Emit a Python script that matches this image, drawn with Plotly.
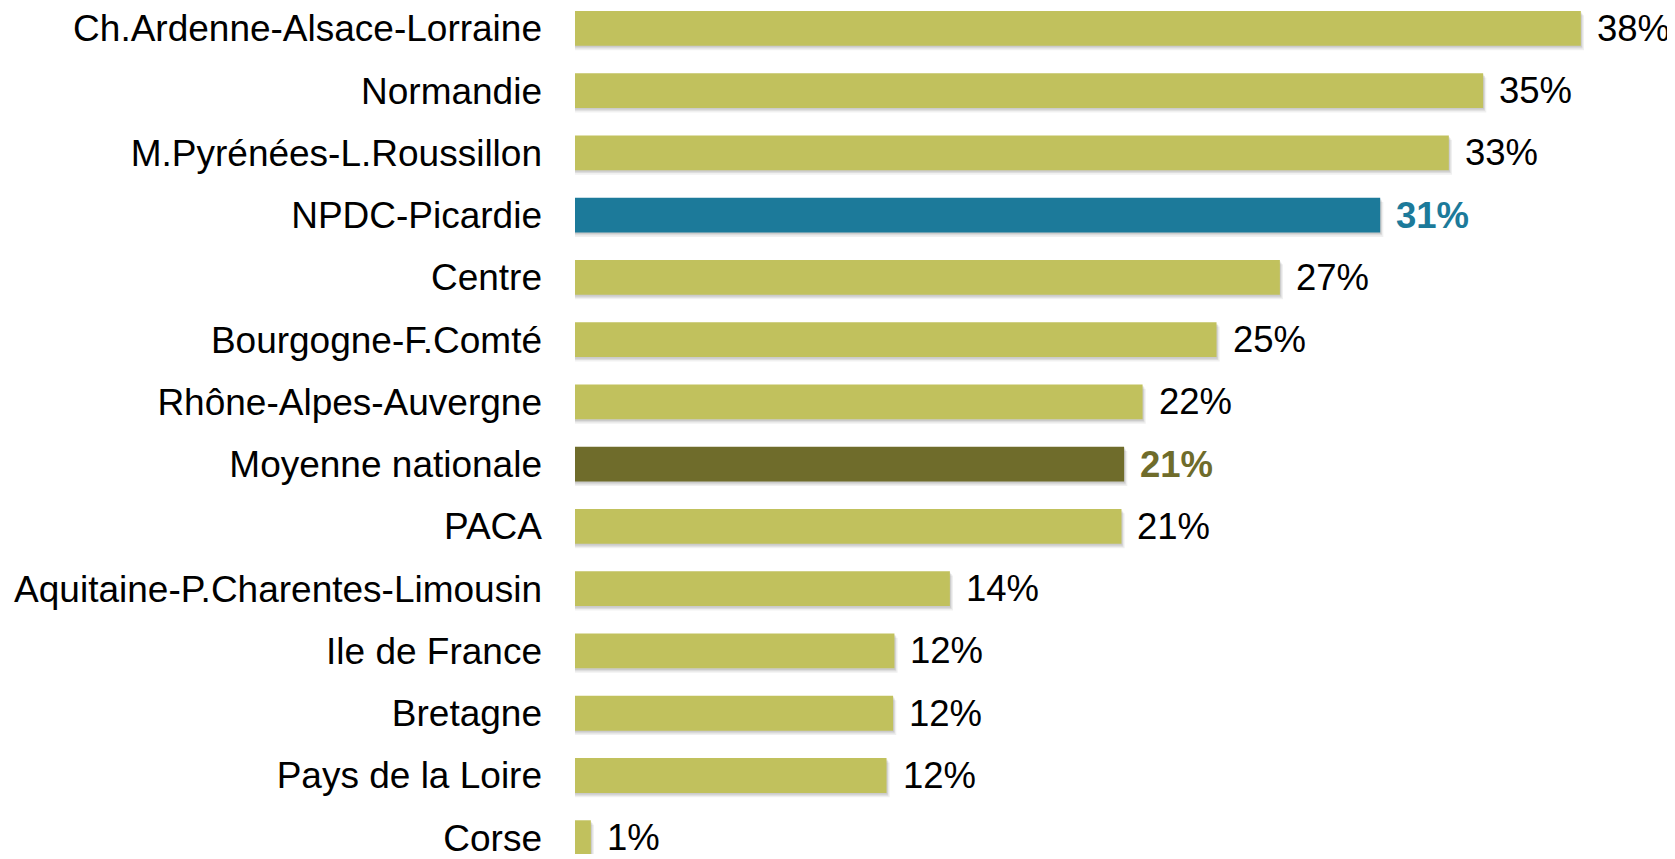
import plotly.graph_objects as go

regions = [
    "Ch.Ardenne-Alsace-Lorraine", "Normandie", "M.Pyrénées-L.Roussillon",
    "NPDC-Picardie", "Centre", "Bourgogne-F.Comté", "Rhône-Alpes-Auvergne",
    "Moyenne nationale", "PACA", "Aquitaine-P.Charentes-Limousin",
    "Ile de France", "Bretagne", "Pays de la Loire", "Corse",
]
values = [38.1, 34.4, 33.1, 30.5, 26.7, 24.3, 21.5, 20.8, 20.7, 14.2, 12.1, 12.05, 11.8, 0.6]
labels = ["38%", "35%", "33%", "31%", "27%", "25%", "22%", "21%", "21%", "14%", "12%", "12%", "12%", "1%"]

GREEN = "#C1C15D"
BLUE = "#1C7A9A"
OLIVE = "#6F6C2B"
bar_colors = [GREEN] * len(regions)
bar_colors[3] = BLUE
bar_colors[7] = OLIVE
text_colors = ["#000000"] * len(regions)
text_colors[3] = BLUE
text_colors[7] = OLIVE
text_bold = [False] * len(regions)
text_bold[3] = True
text_bold[7] = True

FONT = "Liberation Sans, Arial, Helvetica, sans-serif"
BW = 0.56

fig = go.Figure()
# soft shadow layers
for dy, dx, a in [(0.07, 0.12, 0.06), (0.045, 0.07, 0.08), (0.025, 0.04, 0.08)]:
    fig.add_trace(go.Bar(
        y=regions, x=[v + dx for v in values], orientation="h",
        width=BW, offset=-BW / 2 + dy,
        marker=dict(color=f"rgba(0,0,0,{a})", line=dict(width=0)),
        hoverinfo="skip", showlegend=False,
    ))
fig.add_trace(go.Bar(
    y=regions, x=values, orientation="h",
    width=BW, offset=-BW / 2,
    marker=dict(color=bar_colors, line=dict(width=0)),
    showlegend=False,
))

for r, v, t, c, b in zip(regions, values, labels, text_colors, text_bold):
    fig.add_annotation(
        x=v, y=r, text=f"<b>{t}</b>" if b else t,
        xanchor="left", yanchor="middle", xshift=14, yshift=0,
        showarrow=False,
        font=dict(family=FONT, size=36.5, color=c),
    )

pitch = 62.7
top_px = 19.5
h = 851
top = -top_px / pitch
bottom = top + h / pitch

fig.update_layout(
    width=1667, height=851,
    margin=dict(l=567, r=0, t=0, b=0),
    barmode="overlay",
    plot_bgcolor="white", paper_bgcolor="white",
    xaxis=dict(range=[0, 1100 / 26.4], visible=False, fixedrange=True),
    yaxis=dict(
        type="category", categoryorder="array", categoryarray=regions,
        range=[bottom, top], showgrid=False, zeroline=False, showline=False,
        ticks="", ticklabelstandoff=32,
        tickfont=dict(family=FONT, size=37, color="#000000"),
    ),
)

fig.write_html("out.html")
